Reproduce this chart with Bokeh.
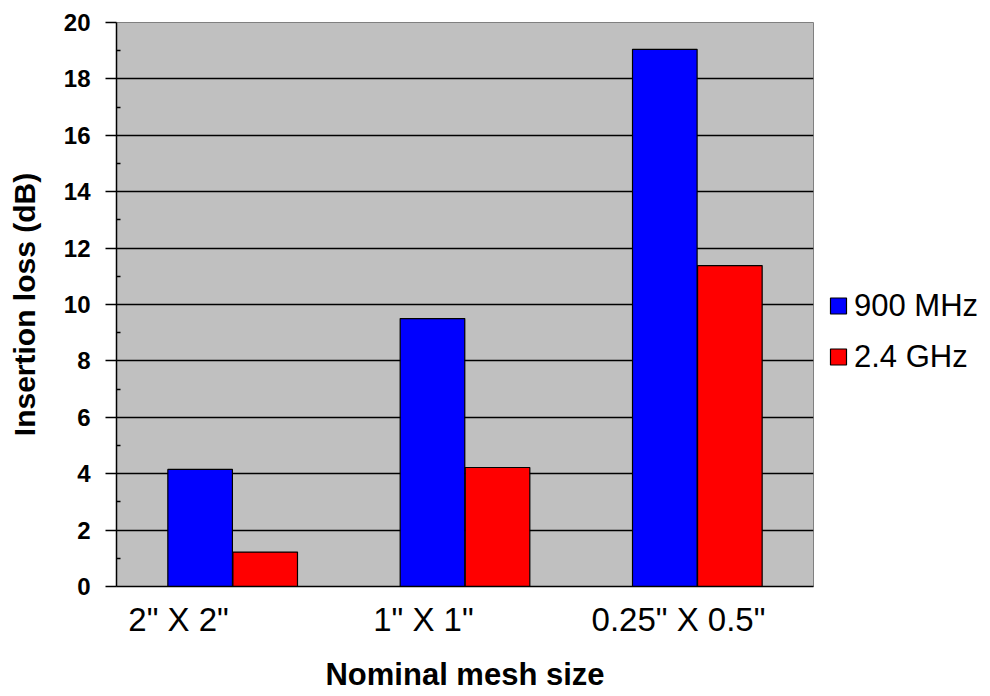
from bokeh.plotting import figure
from bokeh.models import FixedTicker, Legend, LegendItem, ColumnDataSource, Range1d
from bokeh.embed import file_html
from bokeh.resources import INLINE

categories = ['2" X 2"', '1" X 1"', '0.25" X 0.5"']
mhz900 = [4.15, 9.5, 19.05]
ghz24 = [1.22, 4.22, 11.38]
series_names = ["900 MHz", "2.4 GHz"]
y_ticks = [0, 2, 4, 6, 8, 10, 12, 14, 16, 18, 20]
y_minor = [1, 3, 5, 7, 9, 11, 13, 15, 17, 19]
# category label positions as drawn in the original (slightly left of group centres)
label_shift = [-0.233, -0.179, -0.081]

idx = list(range(len(categories)))
centers = [i + 0.5 for i in idx]
src = ColumnDataSource(dict(xa=[c - 0.14 for c in centers], xb=[c + 0.14 for c in centers],
                            a=mhz900, b=ghz24))

p = figure(frame_width=697, frame_height=564, x_range=Range1d(0, len(categories)), y_range=(0, 20),
           output_backend="svg", toolbar_location=None,
           min_border_left=116, min_border_right=10, min_border_top=22, min_border_bottom=106)
p.background_fill_color = "#C0C0C0"
p.border_fill_color = "white"
p.outline_line_color = "#808080"

r1 = p.vbar(x='xa', top='a', width=0.278, source=src,
            fill_color="#0000FF", line_color="black", line_width=1.2)
r2 = p.vbar(x='xb', top='b', width=0.278, source=src,
            fill_color="#FF0000", line_color="black", line_width=1.2)

p.xgrid.grid_line_color = None
p.ygrid.grid_line_color = "black"
p.ygrid.grid_line_width = 1.3
p.ygrid.ticker = FixedTicker(ticks=y_ticks)

yax = p.yaxis[0]
yax.ticker = FixedTicker(ticks=y_ticks, minor_ticks=y_minor)
yax.axis_line_color = "black"
yax.axis_line_width = 1.5
yax.major_tick_out = 11
yax.major_tick_in = 0
yax.major_tick_line_width = 1.5
yax.minor_tick_in = 4
yax.minor_tick_out = 0
yax.minor_tick_line_width = 1.5
yax.major_label_text_font = "Liberation Sans"
yax.major_label_text_font_style = "bold"
yax.major_label_text_font_size = "24px"
yax.major_label_text_color = "black"
yax.major_label_standoff = 15
yax.axis_label = "Insertion loss (dB)"
yax.axis_label_text_font = "Liberation Sans"
yax.axis_label_text_font_style = "bold"
yax.axis_label_text_font_size = "30px"
yax.axis_label_text_color = "black"
yax.axis_label_standoff = 20

tick_pos = [c + s for c, s in zip(centers, label_shift)]
xax = p.xaxis[0]
xax.ticker = FixedTicker(ticks=tick_pos)
xax.major_label_overrides = {t: c for t, c in zip(tick_pos, categories)}
xax.axis_line_color = "black"
xax.axis_line_width = 1.5
xax.major_tick_line_color = None
xax.minor_tick_line_color = None
xax.major_label_text_font = "Liberation Sans"
xax.major_label_text_font_size = "33px"
xax.major_label_text_color = "black"
xax.major_label_standoff = 8
xax.axis_label = "Nominal mesh size"
xax.axis_label_text_font = "Liberation Sans"
xax.axis_label_text_font_style = "bold"
xax.axis_label_text_font_size = "31px"
xax.axis_label_text_color = "black"
xax.axis_label_standoff = 16

legend = Legend(items=[LegendItem(label=series_names[0], renderers=[r1]),
                       LegendItem(label=series_names[1], renderers=[r2])],
                location="center_left")
legend.title = " "
legend.title_text_font_size = "30px"
legend.title_standoff = 20
legend.background_fill_alpha = 0
legend.border_line_color = None
legend.padding = 0
legend.margin = 15
legend.glyph_width = 20
legend.glyph_height = 20
legend.label_standoff = 6
legend.spacing = 15
legend.label_text_font = "Liberation Sans"
legend.label_text_font_size = "31px"
legend.label_text_color = "black"
p.add_layout(legend, "right")

open("out.html", "w").write(file_html(p, INLINE))
